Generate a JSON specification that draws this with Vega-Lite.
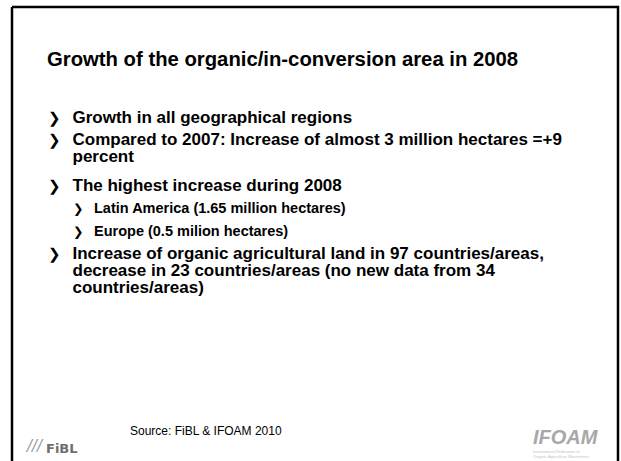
{
  "$schema": "https://vega.github.io/schema/vega-lite/v6.json",
  "width": 606,
  "height": 454,
  "autosize": {"type": "none"},
  "padding": {"left": 12, "top": 7, "right": 3, "bottom": 0},
  "background": "white",
  "config": {
    "view": {"stroke": "#000000", "strokeWidth": 2.5, "strokeDash": [1060, 606, 454, 0]},
    "text": {"font": "Liberation Sans", "color": "#000000"}
  },
  "datasets": {
    "slide": [
      {"line": 0, "level": 0, "kind": "title", "text": "Growth of the organic/in-conversion area in 2008"},
      {"line": 2, "level": 1, "kind": "item", "text": "Growth in all geographical regions"},
      {"line": 3, "level": 1, "kind": "item", "text": "Compared to 2007: Increase of almost 3 million hectares =+9\npercent"},
      {"line": 5, "level": 1, "kind": "item", "text": "The highest increase during 2008"},
      {"line": 6, "level": 2, "kind": "item", "text": "Latin America (1.65 million hectares)"},
      {"line": 7, "level": 2, "kind": "item", "text": "Europe (0.5 milion hectares)"},
      {"line": 8, "level": 1, "kind": "item", "text": "Increase of organic agricultural land in 97 countries/areas,\ndecrease in 23 countries/areas (no new data from 34\ncountries/areas)"},
      {"line": 16, "level": 0, "kind": "source", "text": "Source: FiBL  & IFOAM 2010"},
      {"line": 16, "level": 0, "kind": "fibl", "text": "FiBL"},
      {"line": 16, "level": 0, "kind": "ifoam", "text": "IFOAM"},
      {"line": 16, "level": 0, "kind": "ifoamsub", "text": "International Federation of\nOrganic Agriculture Movements"}
    ]
  },
  "data": {"name": "slide"},
  "encoding": {
    "x": {"field": "level", "type": "quantitative", "scale": {"domain": [-1.814, 26.372], "nice": false, "zero": false}, "axis": null},
    "y": {"field": "line", "type": "quantitative", "scale": {"domain": [-3.096, 16.922], "reverse": true, "nice": false, "zero": false}, "axis": null}
  },
  "layer": [
    {
      "transform": [{"filter": "datum.kind === 'title'"}],
      "mark": {"type": "text", "align": "left", "baseline": "alphabetic", "fontSize": 20.3, "fontWeight": "bold", "dx": -4, "dy": -11},
      "encoding": {"text": {"field": "text", "type": "nominal"}}
    },
    {
      "transform": [{"filter": "datum.kind === 'item' && datum.level === 1"}],
      "mark": {"type": "text", "align": "left", "baseline": "alphabetic", "fontSize": 17, "fontWeight": "bold", "lineBreak": "\n", "lineHeight": 17},
      "encoding": {"text": {"field": "text", "type": "nominal"}}
    },
    {
      "transform": [{"filter": "datum.kind === 'item' && datum.level === 2"}],
      "mark": {"type": "text", "align": "left", "baseline": "alphabetic", "fontSize": 14.5, "fontWeight": "bold", "lineBreak": "\n", "lineHeight": 15},
      "encoding": {"text": {"field": "text", "type": "nominal"}}
    },
    {
      "transform": [{"filter": "datum.kind === 'item' && datum.level === 1"}],
      "mark": {"type": "text", "align": "left", "baseline": "alphabetic", "font": "DejaVu Sans", "fontSize": 15, "fontWeight": "bold", "text": "❯", "dx": -24.5}
    },
    {
      "transform": [{"filter": "datum.kind === 'item' && datum.level === 2"}],
      "mark": {"type": "text", "align": "left", "baseline": "alphabetic", "font": "DejaVu Sans", "fontSize": 12.5, "fontWeight": "bold", "text": "❯", "dx": -21}
    },
    {
      "transform": [{"filter": "datum.kind === 'source'"}],
      "mark": {"type": "text", "align": "left", "baseline": "alphabetic", "fontSize": 12, "dx": 79, "dy": -5},
      "encoding": {"text": {"field": "text", "type": "nominal"}}
    },
    {
      "transform": [{"filter": "datum.kind === 'fibl'"}],
      "mark": {"type": "text", "align": "left", "baseline": "alphabetic", "font": "DejaVu Sans", "fontSize": 15, "fontStyle": "italic", "color": "#9a9a9a", "text": "///", "dx": -24, "dy": 11}
    },
    {
      "transform": [{"filter": "datum.kind === 'fibl'"}],
      "mark": {"type": "text", "align": "left", "baseline": "alphabetic", "font": "DejaVu Sans", "fontSize": 13, "fontWeight": "bold", "color": "#6e6e6e", "dx": -5, "dy": 13},
      "encoding": {"text": {"field": "text", "type": "nominal"}}
    },
    {
      "transform": [{"filter": "datum.kind === 'ifoam'"}],
      "mark": {"type": "text", "align": "left", "baseline": "alphabetic", "fontSize": 20, "fontStyle": "italic", "fontWeight": "bold", "color": "#a8a8a8", "dx": 482, "dy": 4},
      "encoding": {"text": {"field": "text", "type": "nominal"}}
    },
    {
      "transform": [{"filter": "datum.kind === 'ifoamsub'"}],
      "mark": {"type": "text", "align": "left", "baseline": "alphabetic", "fontSize": 4, "color": "#c4c4c4", "lineBreak": "\n", "lineHeight": 4.5, "dx": 482, "dy": 13},
      "encoding": {"text": {"field": "text", "type": "nominal"}}
    }
  ]
}
